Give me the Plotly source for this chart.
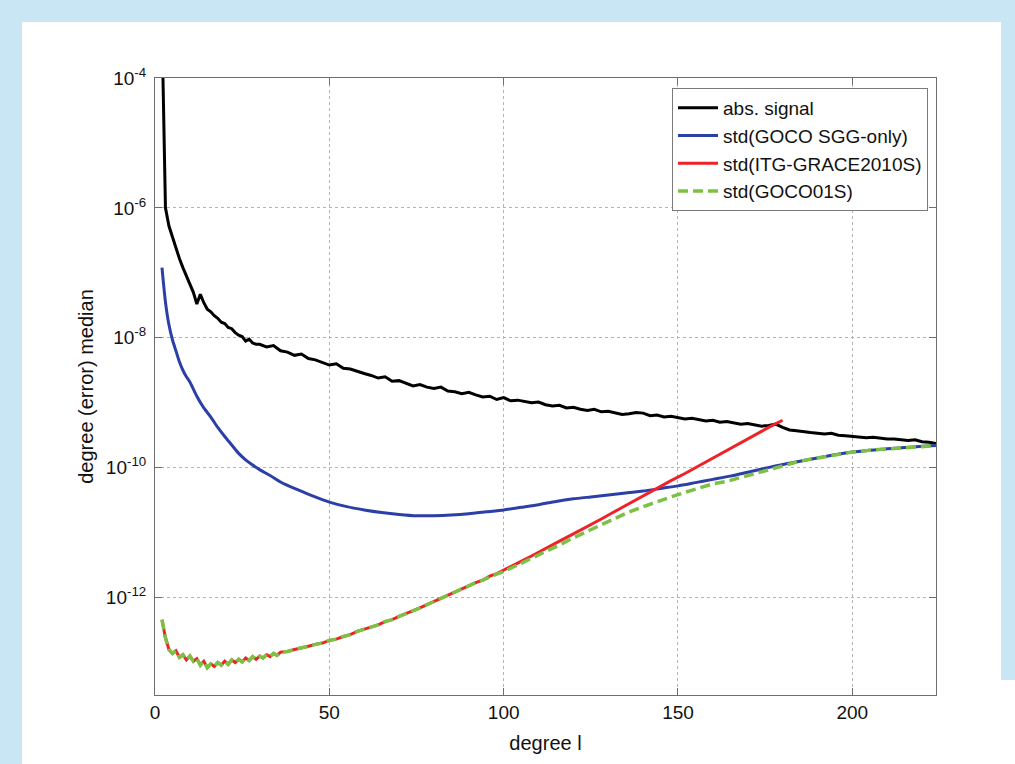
import plotly.graph_objects as go

# ---------------- data (log10 of degree (error) median) ----------------
signal_deg = list(range(2, 31)) + list(range(32, 225, 2))
signal_log = [
    -3.2, -6.0, -6.28, -6.45, -6.6, -6.78, -6.92, -7.05, -7.17, -7.3,
    -7.48, -7.33, -7.46, -7.56, -7.6, -7.66, -7.7, -7.76, -7.78, -7.84,
    -7.86, -7.92, -7.96, -7.98, -8.05, -8.02, -8.08, -8.1, -8.1,
    -8.14, -8.12, -8.2, -8.22, -8.27, -8.25, -8.32, -8.34, -8.38, -8.42,
    -8.4, -8.47, -8.48, -8.52, -8.55, -8.58, -8.62, -8.6, -8.67, -8.66,
    -8.7, -8.74, -8.72, -8.76, -8.78, -8.76, -8.82, -8.83, -8.86, -8.84,
    -8.88, -8.91, -8.9, -8.95, -8.92, -8.97, -8.96, -8.98, -9.0, -8.99,
    -9.03, -9.05, -9.04, -9.08, -9.07, -9.1, -9.12, -9.1, -9.14, -9.13,
    -9.15, -9.18, -9.17, -9.15, -9.16, -9.2, -9.19, -9.22, -9.21, -9.23,
    -9.25, -9.24, -9.26, -9.28, -9.27, -9.3, -9.29, -9.31, -9.33, -9.32,
    -9.34, -9.36, -9.35, -9.33, -9.38, -9.42, -9.43, -9.45, -9.46, -9.47,
    -9.48, -9.47, -9.5, -9.51, -9.52, -9.53, -9.54, -9.53, -9.55, -9.56,
    -9.56, -9.57, -9.58, -9.57, -9.6, -9.61, -9.63,
]

sgg_deg = [2, 3, 4, 5, 6, 7, 8, 9, 10, 12, 14, 16, 18, 20, 22, 24, 26, 28, 30,
           33, 36, 40, 45, 50, 55, 60, 65, 70, 75, 80, 85, 90, 95, 100, 105,
           110, 115, 120, 125, 130, 135, 140, 145, 150, 155, 160, 165, 170,
           175, 180, 185, 190, 195, 200, 205, 210, 215, 220, 224]
sgg_log = [-6.92, -7.45, -7.8, -8.03, -8.2, -8.37, -8.5, -8.6, -8.68, -8.9,
           -9.08, -9.22, -9.38, -9.52, -9.65, -9.78, -9.88, -9.96, -10.03,
           -10.12, -10.22, -10.32, -10.43, -10.53, -10.6, -10.65, -10.69,
           -10.72, -10.74, -10.74, -10.73, -10.71, -10.68, -10.65, -10.61,
           -10.57, -10.52, -10.48, -10.45, -10.42, -10.39, -10.36, -10.32,
           -10.28, -10.23, -10.18, -10.13, -10.07, -10.01, -9.95, -9.9,
           -9.85, -9.8, -9.76, -9.73, -9.71, -9.69, -9.67, -9.66]

itg_deg = list(range(2, 37)) + list(range(38, 101, 2)) + list(range(104, 181, 4))
itg_log = [
    -12.34, -12.62, -12.8, -12.86, -12.82, -12.92, -12.88, -12.96, -12.9,
    -12.98, -12.94, -13.04, -12.98, -13.08, -13.02, -13.06, -13.0, -13.04,
    -12.98, -13.03, -12.96, -13.0, -12.95, -12.99, -12.93, -12.97, -12.91,
    -12.95, -12.9, -12.93, -12.88, -12.91, -12.86, -12.89, -12.84,
    -12.83, -12.8, -12.78, -12.75, -12.72, -12.7, -12.66, -12.64, -12.6,
    -12.57, -12.52, -12.49, -12.45, -12.42, -12.37, -12.34, -12.29, -12.25,
    -12.2, -12.16, -12.11, -12.06, -12.01, -11.96, -11.92, -11.86, -11.82,
    -11.77, -11.73, -11.67, -11.63, -11.58,
    -11.47, -11.36, -11.24, -11.13, -11.02, -10.91, -10.79, -10.67, -10.55,
    -10.43, -10.32, -10.2, -10.09, -9.97, -9.85, -9.73, -9.61, -9.5, -9.38,
    -9.27,
]

goco_deg = list(range(2, 37)) + list(range(38, 101, 2)) + list(range(104, 181, 4)) + \
    [185, 190, 195, 200, 205, 210, 215, 220, 224]
goco_log = [
    -12.34, -12.62, -12.8, -12.86, -12.82, -12.92, -12.88, -12.96, -12.9,
    -12.98, -12.94, -13.04, -12.98, -13.08, -13.02, -13.06, -13.0, -13.04,
    -12.98, -13.03, -12.96, -13.0, -12.95, -12.99, -12.93, -12.97, -12.91,
    -12.95, -12.9, -12.93, -12.88, -12.91, -12.86, -12.89, -12.84,
    -12.83, -12.8, -12.78, -12.75, -12.72, -12.7, -12.66, -12.64, -12.6,
    -12.57, -12.52, -12.49, -12.45, -12.42, -12.37, -12.34, -12.29, -12.25,
    -12.2, -12.16, -12.11, -12.06, -12.01, -11.96, -11.92, -11.86, -11.82,
    -11.77, -11.73, -11.68, -11.64, -11.6,
    -11.5, -11.4, -11.3, -11.19, -11.08, -10.98, -10.88, -10.78, -10.68,
    -10.6, -10.52, -10.45, -10.38, -10.31, -10.25, -10.21, -10.15, -10.09,
    -10.03, -9.97,
    -9.9, -9.85, -9.8, -9.76, -9.73, -9.71, -9.69, -9.67, -9.66,
]

series_names = ["abs. signal", "std(GOCO SGG-only)", "std(ITG-GRACE2010S)", "std(GOCO01S)"]
y_tick_exps = [-4, -6, -8, -10, -12]
x_ticks = [0, 50, 100, 150, 200]

# ---------------- figure ----------------
W, H = 1015, 764
L, R, T, B = 155, 79, 78, 69
pw, ph = W - L - R, H - T - B


def px(x):
    return (x - L) / pw


def py(y):
    return (H - B - y) / ph


def lin(v):
    return [10 ** a for a in v]


fig = go.Figure()
fig.add_trace(go.Scatter(x=signal_deg, y=lin(signal_log), mode="lines", name=series_names[0],
                         line=dict(color="#000000", width=3)))
fig.add_trace(go.Scatter(x=sgg_deg, y=lin(sgg_log), mode="lines", name=series_names[1],
                         line=dict(color="#2c3fa6", width=3, shape="spline", smoothing=0.6)))
fig.add_trace(go.Scatter(x=itg_deg, y=lin(itg_log), mode="lines", name=series_names[2],
                         line=dict(color="#ee2229", width=3)))
fig.add_trace(go.Scatter(x=goco_deg, y=lin(goco_log), mode="lines", name=series_names[3],
                         line=dict(color="#7cc143", width=3.5, dash="10px,5px")))

bg_blue = "#c8e6f3"
shapes = [
    dict(type="rect", xref="paper", yref="paper", layer="below",
         x0=px(0), x1=px(W), y0=py(0), y1=py(22), fillcolor=bg_blue, line_width=0),
    dict(type="rect", xref="paper", yref="paper", layer="below",
         x0=px(0), x1=px(22), y0=py(0), y1=py(H), fillcolor=bg_blue, line_width=0),
    dict(type="rect", xref="paper", yref="paper", layer="below",
         x0=px(1001), x1=px(W), y0=py(0), y1=py(680), fillcolor=bg_blue, line_width=0),
]

axis_common = dict(showline=True, linecolor="#6e6e6e", linewidth=1, mirror="ticks",
                   ticks="inside", ticklen=7, tickcolor="#6e6e6e",
                   showgrid=True, gridcolor="#b4b4b4", gridwidth=1, griddash="dot",
                   zeroline=False, tickfont=dict(size=19, color="#111"),
                   title_font=dict(size=20, color="#111"))

fig.update_layout(
    width=W, height=H,
    margin=dict(l=L, r=R, t=T, b=B, autoexpand=False),
    paper_bgcolor="white", plot_bgcolor="white",
    font=dict(family="Liberation Sans, Arial, sans-serif", color="#111"),
    shapes=shapes,
    showlegend=True,
    legend=dict(x=px(928), y=py(88), xanchor="right", yanchor="top",
                bgcolor="white", bordercolor="#7a7a7a", borderwidth=1,
                font=dict(size=19, color="#111"), tracegroupgap=0,
                itemwidth=40),
    xaxis=dict(range=[0, 224], tickvals=x_ticks, ticktext=[str(v) for v in x_ticks],
               title=dict(text="degree l", standoff=14), **axis_common),
    yaxis=dict(type="log", range=[-13.5, -4],
               tickvals=[10 ** e for e in y_tick_exps],
               ticktext=["10<sup>%d</sup>" % e for e in y_tick_exps],
               ticklabelstandoff=4,
               title=dict(text="degree (error) median", standoff=6), **axis_common),
)

fig.write_html("out.html", config={"displayModeBar": False},
               post_script="document.body.style.margin='0px';document.body.style.overflow='hidden';")
